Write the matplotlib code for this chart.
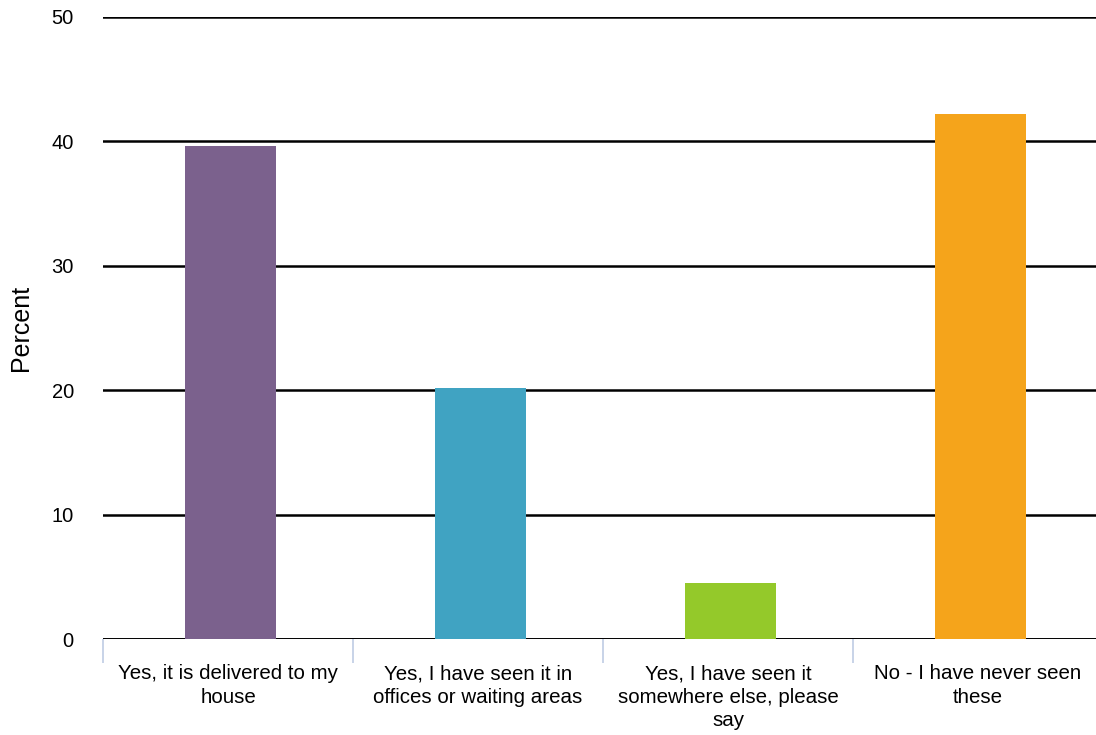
import numpy as np
import matplotlib.pyplot as plt

plt.rcParams['font.family'] = ['Liberation Sans', 'DejaVu Sans']

categories = ['Yes, it is delivered to my\nhouse',
              'Yes, I have seen it in\noffices or waiting areas',
              'Yes, I have seen it\nsomewhere else, please\nsay',
              'No - I have never seen\nthese']
percent = [39.6, 20.2, 4.5, 42.2]
colors = ['#7b618d', '#40a3c2', '#94c92a', '#f5a41b']

fig = plt.figure(figsize=(10.96, 7.35), dpi=100)
ax = fig.add_axes([0.094, 0.1306, 0.9124, 0.8463])

x = np.arange(len(categories))
ax.bar(x + 0.01, percent, width=0.366, color=colors, zorder=3)

ax.set_xlim(-0.5, len(categories) - 0.5)
ax.set_ylim(0, 50)
ax.set_yticks(range(0, 51, 10))
ax.yaxis.grid(True, color='black', linewidth=1.8, zorder=1)
ax.set_axisbelow(True)
ax.axhline(0, color='black', linewidth=2.0, zorder=2)

for s in ax.spines.values():
    s.set_visible(False)

ax.tick_params(axis='y', length=0, pad=21, labelsize=14.5)
# category separators below the axis
ax.set_xticks(np.arange(len(categories) + 1) - 0.5)
ax.set_xticklabels([])
ax.set_xticks(x, minor=True)
ax.set_xticklabels(categories, minor=True, fontsize=14.8, linespacing=1.3)
ax.tick_params(axis='x', which='major', length=17, color='#c8d3e8', width=1.4)
ax.tick_params(axis='x', which='minor', length=0, pad=18)

ax.set_ylabel('Percent', fontsize=18)
ax.yaxis.set_label_coords(-0.07, 0.5)

fig.savefig('out.png', dpi=100)
